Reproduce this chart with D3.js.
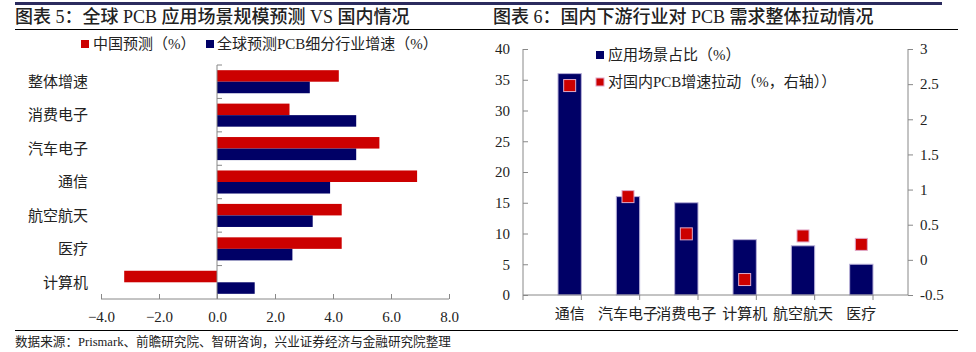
<!DOCTYPE html>
<html lang="zh">
<head>
<meta charset="utf-8">
<script src="https://d3js.org/d3.v7.min.js"></script>
<style>
    body { margin: 0; background: #fff; }
    svg text { font-family: "Liberation Serif", "Noto Sans CJK SC", serif; fill: #222; }
</style>
</head>
<body>
<script>

    // left chart data
    const cats1 = ["整体增速", "消费电子", "汽车电子", "通信", "航空航天", "医疗", "计算机"];
    const chinaVals = [4.2, 2.5, 5.6, 6.9, 4.3, 4.3, -3.2];
    const globalVals = [3.2, 4.8, 4.8, 3.9, 3.3, 2.6, 1.3];
    const xTicks1 = [-4, -2, 0, 2, 4, 6, 8];

    // right chart data
    const cats2 = ["通信", "汽车电子", "消费电子", "计算机", "航空航天", "医疗"];
    const shareVals = [36, 16, 15, 9, 8, 5];
    const pullVals = [2.48, 0.9, 0.37, -0.28, 0.34, 0.22];
    const leftTicks2 = [0, 5, 10, 15, 20, 25, 30, 35, 40];
    const rightTicks2 = [-0.5, 0, 0.5, 1, 1.5, 2, 2.5, 3];

    const RED = "#cc0000", NAVY = "#000066";

    const svg = d3.select("body").append("svg")
        .attr("width", 976).attr("height", 352);

    // frame lines
    svg.append("rect").attr("x", 15).attr("y", 2).attr("width", 927).attr("height", 3).attr("fill", "#2b2b5e");
    svg.append("line").attr("x1", 15).attr("x2", 958).attr("y1", 29.5).attr("y2", 29.5).attr("stroke", "#000");
    svg.append("line").attr("x1", 15).attr("x2", 958).attr("y1", 330.5).attr("y2", 330.5).attr("stroke", "#000");

    svg.append("text").attr("x", 15).attr("y", 23).attr("font-size", 18).attr("font-weight", 500)
        .text("图表 5：全球 PCB 应用场景规模预测 VS 国内情况");
    svg.append("text").attr("x", 493).attr("y", 23).attr("font-size", 18).attr("font-weight", 500)
        .text("图表 6：国内下游行业对 PCB 需求整体拉动情况");
    svg.append("text").attr("x", 15).attr("y", 346).attr("font-size", 12.6)
        .text("数据来源：Prismark、前瞻研究院、智研咨询，兴业证券经济与金融研究院整理");

    // ---------- left chart ----------
    const x1 = d3.scaleLinear().domain([-4, 8]).range([101, 449]);
    const y1 = d3.scaleBand().domain(cats1).range([65, 299]);
    const sub = d3.scaleBand().domain(["cn", "gl"]).range([0, y1.bandwidth()]).paddingOuter(0.45);

    const g1 = svg.append("g");

    cats1.forEach((c, i) => {
        const y0 = y1(c);
        g1.append("rect")
            .attr("x", Math.min(x1(0), x1(chinaVals[i])))
            .attr("y", y0 + sub("cn"))
            .attr("width", Math.abs(x1(chinaVals[i]) - x1(0)))
            .attr("height", sub.bandwidth())
            .attr("fill", RED);
        g1.append("rect")
            .attr("x", Math.min(x1(0), x1(globalVals[i])))
            .attr("y", y0 + sub("gl"))
            .attr("width", Math.abs(x1(globalVals[i]) - x1(0)))
            .attr("height", sub.bandwidth())
            .attr("fill", NAVY);
    });

    // bottom axis
    const ax1 = g1.append("g").attr("transform", "translate(0,299)")
        .call(d3.axisBottom(x1).tickValues(xTicks1).tickFormat(d3.format(".1f")).tickSize(-5).tickPadding(12));
    ax1.select(".domain").attr("stroke", "#888").attr("d", "M101,0H449");
    ax1.selectAll(".tick line").attr("stroke", "#888");
    ax1.selectAll(".tick text").attr("font-size", 15).attr("dy", "0.75em")
        .style("font-family", "Liberation Serif").attr("fill", "#222");

    // zero axis with category ticks
    const ay1 = g1.append("g").attr("transform", `translate(${x1(0)},0)`)
        .call(d3.axisRight(y1).tickSize(5).tickFormat(""));
    ay1.select(".domain").attr("stroke", "#888").attr("d", "M0,65V299");
    ay1.selectAll(".tick").attr("transform", d => `translate(0,${y1(d)})`);
    ay1.selectAll(".tick line").attr("stroke", "#888");

    // category labels
    g1.selectAll(".catlab").data(cats1).enter().append("text")
        .attr("x", 88).attr("y", d => y1(d) + y1.bandwidth() / 2)
        .attr("dy", "0.35em").attr("text-anchor", "end")
        .attr("font-size", 15).attr("fill", "#333")
        .style("font-family", "Noto Sans CJK SC")
        .text(d => d);

    // legend
    const lg1 = svg.append("g");
    lg1.append("rect").attr("x", 81).attr("y", 40).attr("width", 8).attr("height", 8).attr("fill", RED);
    lg1.append("text").attr("x", 93).attr("y", 49).attr("font-size", 15).text("中国预测（%）");
    lg1.append("rect").attr("x", 206).attr("y", 40).attr("width", 8).attr("height", 8).attr("fill", NAVY);
    lg1.append("text").attr("x", 217).attr("y", 49).attr("font-size", 15).text("全球预测PCB细分行业增速（%）");

    // ---------- right chart ----------
    const x2 = d3.scaleBand().domain(cats2).range([523, 908]).padding(0.6);
    const yL = d3.scaleLinear().domain([0, 40]).range([295, 49]);
    const yR = d3.scaleLinear().domain([-0.5, 3]).range([295, 49]);
    const g2 = svg.append("g");

    g2.selectAll(".bar").data(cats2).enter().append("rect")
        .attr("x", d => x2(d))
        .attr("y", (d, i) => yL(shareVals[i]))
        .attr("width", x2.bandwidth())
        .attr("height", (d, i) => yL(0) - yL(shareVals[i]))
        .attr("fill", NAVY).attr("stroke", "#b8b0d8").attr("stroke-width", 1);

    // left axis
    const aL = g2.append("g").attr("transform", "translate(523,0)")
        .call(d3.axisLeft(yL).tickValues(leftTicks2).tickSize(-5).tickPadding(13));
    aL.select(".domain").attr("stroke", "#888").attr("d", "M0,49V295");
    aL.selectAll(".tick line").attr("stroke", "#888");
    aL.selectAll(".tick text").attr("font-size", 15).style("font-family", "Liberation Serif").attr("fill", "#222");

    // right axis
    const aR = g2.append("g").attr("transform", "translate(908,0)")
        .call(d3.axisRight(yR).tickValues(rightTicks2).tickFormat(d => String(d)).tickSize(5).tickPadding(7));
    aR.select(".domain").attr("stroke", "#888").attr("d", "M0,49V295");
    aR.selectAll(".tick line").attr("stroke", "#888");
    aR.selectAll(".tick text").attr("font-size", 15).style("font-family", "Liberation Serif").attr("fill", "#222");

    // bottom axis
    const aB = g2.append("g").attr("transform", "translate(0,295)");
    aB.append("line").attr("x1", 523).attr("x2", 908).attr("stroke", "#888");
    const step = x2.step();
    aB.selectAll(".btick").data(d3.range(cats2.length + 1)).enter().append("line")
        .attr("x1", i => 523 + i * step).attr("x2", i => 523 + i * step)
        .attr("y1", 0).attr("y2", 5).attr("stroke", "#888");
    aB.selectAll(".blab").data(cats2).enter().append("text")
        .attr("x", d => x2(d) + x2.bandwidth() / 2).attr("y", 24)
        .attr("text-anchor", "middle").attr("font-size", 15).attr("fill", "#333")
        .style("font-family", "Noto Sans CJK SC")
        .text(d => d);

    // markers
    g2.selectAll(".mk").data(cats2).enter().append("rect")
        .attr("x", d => x2(d) + x2.bandwidth() / 2 - 6)
        .attr("y", (d, i) => yR(pullVals[i]) - 6)
        .attr("width", 12).attr("height", 12)
        .attr("fill", RED).attr("stroke", "#e0a8c8").attr("stroke-width", 1);

    // legend
    const lg2 = svg.append("g");
    lg2.append("rect").attr("x", 596).attr("y", 51).attr("width", 8).attr("height", 8).attr("fill", NAVY);
    lg2.append("text").attr("x", 608).attr("y", 60).attr("font-size", 15).text("应用场景占比（%）");
    lg2.append("rect").attr("x", 596).attr("y", 78).attr("width", 8).attr("height", 8).attr("fill", RED)
        .attr("stroke", "#e0a8c8");
    lg2.append("text").attr("x", 608).attr("y", 87).attr("font-size", 15).text("对国内PCB增速拉动（%，右轴））");

</script>
</body>
</html>
